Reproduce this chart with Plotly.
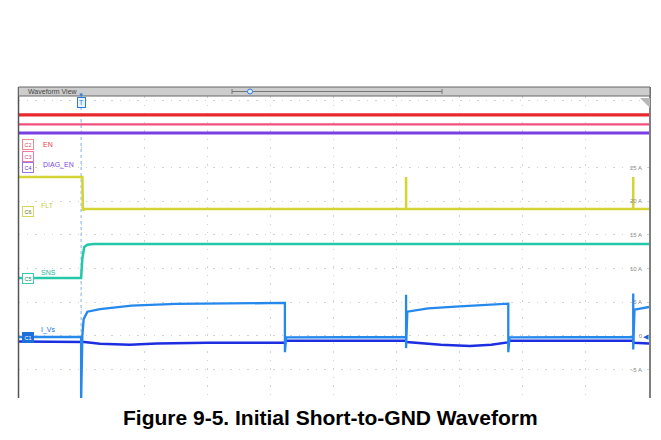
import plotly.graph_objects as go

W, H = 661, 440
OFF = 8  # page body margin compensation

# ---------------- data (time in divisions from trigger, level in display amps) -------------
en_t = [-1, 9]
en_v = [32.8, 32.8]
c3_t = [-1, 9]
c3_v = [31.4, 31.4]
diag_t = [-1, 9]
diag_v = [30.1, 30.1]

flt_t = [-1, 0.02, 0.03, 0.06, 5.15, 5.15, 5.15, 8.75, 8.75, 8.75, 9]
flt_v = [23.6, 23.6, 18.6, 18.85, 18.85, 23.6, 18.85, 18.85, 23.6, 18.85, 18.85]

sns_t = [-1, 0.0, 0.02, 0.05, 0.1, 0.2, 9]
sns_v = [8.6, 8.6, 11.5, 13.2, 13.55, 13.65, 13.65]

ivs_t = [-1, 0.0, 0.0, 0.02, 0.04, 0.1, 0.3, 0.8, 1.5, 2.3, 3.22, 3.23, 3.23, 3.25,
         5.15, 5.15, 5.15, 5.17, 5.5, 6.0, 6.5, 6.76, 6.77, 6.77, 6.79,
         8.75, 8.75, 8.75, 8.77, 9]
ivs_v = [-0.15, -0.15, -10, 0.0, 2.5, 3.6, 4.0, 4.5, 4.75, 4.85, 4.9, 4.9, -2.4, -0.2,
         -0.15, 6.1, -1.8, 3.6, 4.1, 4.4, 4.65, 4.8, 4.8, -2.4, -0.2,
         -0.15, 6.3, -2.0, 3.9, 4.3]

vs_t = [-1, 0.0, 0.05, 0.3, 0.77, 1.2, 2.0, 3.22, 3.25, 5.14, 5.16, 5.7, 6.16, 6.5, 6.76, 6.79, 8.74, 8.76, 9]
vs_v = [-0.8, -0.8, -0.9, -1.15, -1.3, -1.1, -1.0, -1.0, -0.7, -0.7, -0.9, -1.3, -1.5, -1.3, -0.95, -0.7, -0.7, -1.0, -1.1]

y_ticks = [-5, 0, 5, 10, 15, 20, 25, 30, 35]
y_tick_text = ["-5 A", "0", "5 A", "10 A", "15 A", "20 A", "25 A", "", ""]

# ---------------- figure -------------
def px(x):
    return (x - OFF) / W

def py(y):
    return 1 - (y - OFF) / H

fig = go.Figure()

def add(t, v, color, width):
    fig.add_trace(go.Scatter(x=t, y=v, mode="lines", line=dict(color=color, width=width),
                             hoverinfo="skip", showlegend=False))

add(en_t, en_v, "#e8282c", 3.2)
add(c3_t, c3_v, "#f2507c", 2.2)
add(diag_t, diag_v, "#7a3fe4", 3)
add(flt_t, flt_v, "#d4d434", 2.5)
add(sns_t, sns_v, "#22c8a8", 2.5)
add(vs_t, vs_v, "#1c2ee0", 2.5)
add(ivs_t, ivs_v, "#2588ec", 2.3)

fig.update_layout(
    width=W, height=H,
    margin=dict(l=0, r=0, t=0, b=0),
    paper_bgcolor="white", plot_bgcolor="white",
    showlegend=False,
    xaxis=dict(domain=[px(18), px(649)], range=[-1, 9], dtick=1, tick0=0,
               showgrid=True, gridcolor="#d2d2d2", griddash="1.5px,7px", gridwidth=1,
               showticklabels=False, zeroline=False, ticks="", showline=False),
    yaxis=dict(domain=[py(398), py(96)], range=[-9.2, 35.6],
               tickvals=y_ticks, ticktext=y_tick_text, side="right",
               ticklabelposition="inside", ticklabelstandoff=4,
               tickfont=dict(size=6, color="#8a8a8a", family="Liberation Sans"),
               showgrid=True, gridcolor="#d2d2d2", griddash="1.5px,7px", gridwidth=1,
               zeroline=False, ticks="", showline=False),
)

shapes = []
# outer frame (right side visible)
shapes.append(dict(type="line", xref="paper", yref="paper", x0=px(656.5), x1=px(656.5), y0=py(440), y1=py(8),
                   line=dict(color="#666", width=1), layer="above"))
# scope frame verticals
for xx in (18.5, 650):
    shapes.append(dict(type="line", xref="paper", yref="paper", x0=px(xx), x1=px(xx), y0=py(398), y1=py(87),
                       line=dict(color="#555", width=1.5), layer="above"))
# header bar
shapes.append(dict(type="rect", xref="paper", yref="paper", x0=px(18.5), x1=px(650), y0=py(96), y1=py(87),
                   fillcolor="#cdcdcd", line=dict(color="#666", width=1), layer="above"))
# scroll bar
shapes.append(dict(type="line", xref="paper", yref="paper", x0=px(232), x1=px(442), y0=py(91.5), y1=py(91.5),
                   line=dict(color="#777", width=1), layer="above"))
for xx in (232, 442):
    shapes.append(dict(type="line", xref="paper", yref="paper", x0=px(xx), x1=px(xx), y0=py(94), y1=py(89),
                       line=dict(color="#777", width=1), layer="above"))
shapes.append(dict(type="circle", xref="paper", yref="paper", x0=px(247.5), x1=px(252.5), y0=py(94), y1=py(89),
                   fillcolor="#dbe9fb", line=dict(color="#2a7de0", width=1), layer="above"))
# trigger dotted line
shapes.append(dict(type="line", xref="x", yref="paper", x0=0, x1=0, y0=py(398), y1=py(97),
                   line=dict(color="#7fb3e8", width=1, dash="dot"), layer="below"))
# top-right corner marker
shapes.append(dict(type="path", xref="paper", yref="paper",
                   path=f"M {px(640)} {py(98)} L {px(650)} {py(98)} L {px(650)} {py(108)} Z",
                   fillcolor="#b8b8b8", line=dict(width=0), layer="above"))
fig.update_layout(shapes=shapes)

ann = []
def text(x, y, s, size, color, xanchor="left", **kw):
    ann.append(dict(x=px(x), y=py(y), xref="paper", yref="paper", text=s, showarrow=False,
                    xanchor=xanchor, yanchor="middle", font=dict(size=size, color=color,
                    family=kw.pop("family", "Liberation Sans")), **kw))

text(26, 91.5, "Waveform View", 7, "#444")
# trigger marker
text(81, 95, "▼", 6, "#2a7de0", xanchor="center")
text(81, 102, "T", 7, "#2a7de0", xanchor="center", bordercolor="#2a7de0", borderwidth=1,
     borderpad=1, bgcolor="#eaf2fc")

# channel badges
badges = [(145, "C2", "#f08a90", "white", "#d85060"),
          (156, "C3", "#f07aa0", "white", "#d85080"),
          (167, "C4", "#9a74e6", "white", "#6a40c8"),
          (211, "C6", "#d6d65a", "white", "#707020"),
          (278, "C5", "#3ccbb0", "white", "#208870"),
          (337, "C1", "#1e6fd8", "#1e6fd8", "white")]
for y, s, bc, bg, tc in badges:
    text(22, y, s, 5.5, tc, bordercolor=bc, borderwidth=1, borderpad=1.5, bgcolor=bg)

text(41, 144, "EN", 7, "#e8404a")
text(41, 165, "DIAG_EN", 7, "#7a4ae0")
text(39, 205, "FLT", 7, "#c8c83c")
text(39, 272, "SNS", 7, "#22b898")
text(39, 330, "I_Vs", 7, "#1e6fd8")

# right-side marker
text(651, 336.5, "◀", 7, "#1e5fd8", xanchor="right")

# caption
text(330.5, 417, "<b>Figure 9-5. Initial Short-to-GND Waveform</b>", 21, "#000", xanchor="center",
     family="Liberation Sans, Arial")

fig.update_layout(annotations=ann)

fig.write_html("out.html")
